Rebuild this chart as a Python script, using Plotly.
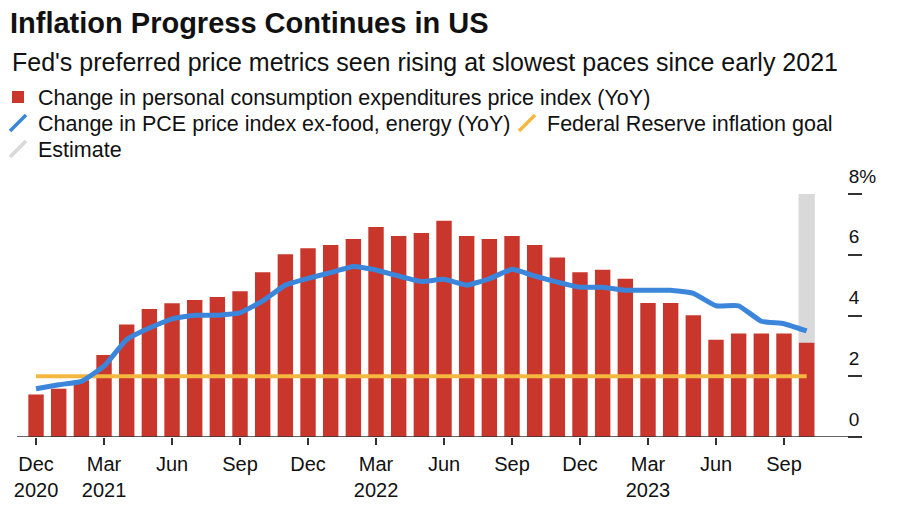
import plotly.graph_objects as go

# ---------------- data ----------------
months = [
    "Dec 2020", "Jan 2021", "Feb 2021", "Mar 2021", "Apr 2021", "May 2021",
    "Jun 2021", "Jul 2021", "Aug 2021", "Sep 2021", "Oct 2021", "Nov 2021",
    "Dec 2021", "Jan 2022", "Feb 2022", "Mar 2022", "Apr 2022", "May 2022",
    "Jun 2022", "Jul 2022", "Aug 2022", "Sep 2022", "Oct 2022", "Nov 2022",
    "Dec 2022", "Jan 2023", "Feb 2023", "Mar 2023", "Apr 2023", "May 2023",
    "Jun 2023", "Jul 2023", "Aug 2023", "Sep 2023", "Oct 2023",
]
pce_yoy = [1.40, 1.59, 1.87, 2.70, 3.70, 4.21, 4.40, 4.51, 4.61, 4.80, 5.42, 6.02,
           6.21, 6.32, 6.52, 6.91, 6.62, 6.72, 7.12, 6.62, 6.52, 6.62, 6.32, 5.91,
           5.42, 5.51, 5.21, 4.41, 4.41, 4.01, 3.20, 3.41, 3.41, 3.41, 3.10]
core_pce_yoy = [1.59, 1.72, 1.83, 2.33, 3.21, 3.59, 3.89, 4.01, 4.01, 4.09, 4.48, 5.00,
                5.22, 5.41, 5.61, 5.50, 5.30, 5.12, 5.19, 5.00, 5.21, 5.52, 5.30, 5.10,
                4.93, 4.93, 4.83, 4.83, 4.83, 4.73, 4.32, 4.32, 3.81, 3.73, 3.49]
fed_goal = [2.0] * len(months)
estimate_months = ["Oct 2023"]
estimate_band = [8.0]

x_tickvals = ["Dec 2020", "Mar 2021", "Jun 2021", "Sep 2021", "Dec 2021", "Mar 2022",
              "Jun 2022", "Sep 2022", "Dec 2022", "Mar 2023", "Jun 2023", "Sep 2023"]
x_ticktext = ["Dec<br>2020", "Mar<br>2021", "Jun", "Sep", "Dec", "Mar<br>2022",
              "Jun", "Sep", "Dec", "Mar<br>2023", "Jun", "Sep"]
y_tickvals = [0, 2, 4, 6, 8]
y_ticktext = ["0", "2", "4", "6", "8%"]

label_pce = "Change in personal consumption expenditures price index (YoY)"
label_core = "Change in PCE price index ex-food, energy (YoY)"
label_goal = "Federal Reserve inflation goal"
label_est = "Estimate"

# ---------------- style ----------------
RED = "#c9372c"
BLUE = "#3b86da"
YELLOW = "#f4b840"
GREY = "#d9d9d9"
INK = "#111111"
AXIS = "#333333"
FONT = "Liberation Sans, Arial, Helvetica, sans-serif"

# the page body has an 8px margin, so the figure is drawn 8px in from the window edge
OFF = 8
W, H = 900 - OFF, 510 - OFF
ML, MR, MT, MB = 17 - OFF, W - (847 - OFF), 194 - OFF, H - (437 - OFF)
PH = H - MT - MB
PW = W - ML - MR

def py(s):  # screen pixel-from-top -> paper y
    return (H - MB - (s - OFF)) / PH

def px(s):  # screen pixel-from-left -> paper x
    return ((s - OFF) - ML) / PW

def cx(s):  # screen x -> container x
    return (s - OFF) / W

def cy(s):  # screen y -> container y
    return 1 - (s - OFF) / H

fig = go.Figure()

# estimate band (behind)
fig.add_trace(go.Bar(x=estimate_months, y=estimate_band, marker=dict(color=GREY, line=dict(width=0)),
                     width=0.72, showlegend=False, hoverinfo="skip"))
# PCE bars
fig.add_trace(go.Bar(x=months, y=pce_yoy, name=label_pce, marker=dict(color=RED, line=dict(width=0)),
                     width=0.68, legend="legend"))
# Fed goal
fig.add_trace(go.Scatter(x=months, y=fed_goal, mode="lines", line=dict(color=YELLOW, width=4),
                         showlegend=False))
# Core PCE
fig.add_trace(go.Scatter(x=months, y=core_pce_yoy, mode="lines",
                         line=dict(color=BLUE, width=5, shape="spline", smoothing=0.35),
                         showlegend=False))

# legend-only entries with slash symbols
def slash_entry(name, color, legend):
    fig.add_trace(go.Scatter(x=[None], y=[None], mode="markers", name=name, legend=legend,
                             marker=dict(symbol="line-ne", size=16, color=color,
                                         line=dict(color=color, width=3.5))))

slash_entry(label_core, BLUE, "legend2")
slash_entry(label_goal, YELLOW, "legend3")
slash_entry(label_est, GREY, "legend4")

leg_common = dict(font=dict(family=FONT, size=21.5, color=INK), bgcolor="rgba(0,0,0,0)",
                  borderwidth=0, xref="container", yref="container",
                  xanchor="left", yanchor="middle", orientation="h", itemclick=False)

fig.update_layout(
    width=W, height=H,
    margin=dict(l=ML, r=MR, t=MT, b=MB, pad=0, autoexpand=False),
    paper_bgcolor="white", plot_bgcolor="white",
    barmode="overlay",
    font=dict(family=FONT, color=INK),
    title=dict(text="<b>Inflation Progress Continues in US</b>",
               font=dict(family=FONT, size=29, color=INK),
               xref="container", yref="container", x=cx(10), xanchor="left",
               y=cy(23), yanchor="middle"),
    legend=dict(**leg_common, x=0, y=cy(97), indentation=-10),
    legend2=dict(**leg_common, x=0, y=cy(123), indentation=-10),
    legend3=dict(**leg_common, x=cx(507), y=cy(123)),
    legend4=dict(**leg_common, x=0, y=cy(149), indentation=-10),
    xaxis=dict(type="category", categoryorder="array", categoryarray=months,
               range=[-0.84, 35.78], tickmode="array", tickvals=x_tickvals, ticktext=x_ticktext,
               ticks="outside", ticklen=7, tickwidth=1.5, tickcolor=AXIS, automargin=False,
               showline=False, showgrid=False, zeroline=False, ticklabelstandoff=2,
               tickfont=dict(family=FONT, size=20, color=INK)),
    yaxis=dict(side="right", range=[0, 8], tickmode="array", tickvals=y_tickvals, ticktext=y_ticktext,
               ticks="outside", ticklen=14, tickwidth=1.5, tickcolor=AXIS, automargin=False,
               showline=False, showgrid=False, zeroline=False,
               ticklabelstandoff=-17, ticklabelshift=-18,
               tickfont=dict(family=FONT, size=19, color=INK)),
    annotations=[dict(text="Fed's preferred price metrics seen rising at slowest paces since early 2021",
                      xref="paper", yref="paper", x=px(10), y=py(62), xanchor="left", yanchor="middle",
                      showarrow=False, font=dict(family=FONT, size=25, color=INK))],
    shapes=[dict(type="line", xref="paper", yref="y", x0=0, x1=px(860), y0=0, y1=0,
                 line=dict(color=AXIS, width=1.5), layer="above")],
)

fig.write_html("out.html")
